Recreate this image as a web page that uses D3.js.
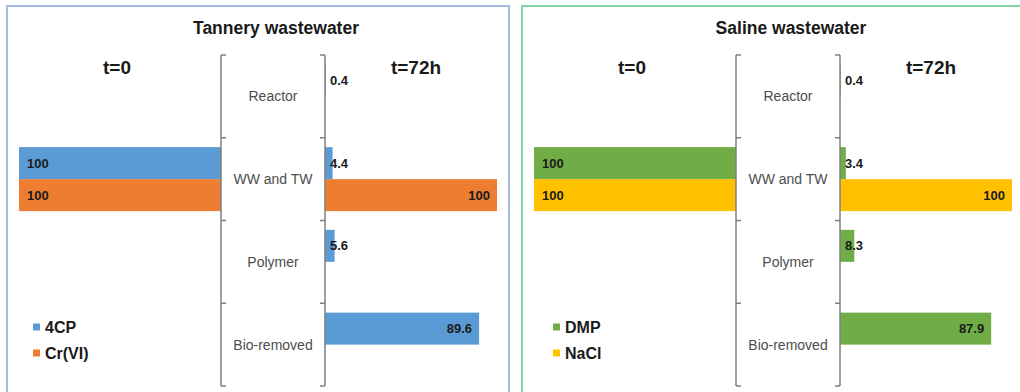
<!DOCTYPE html>
<html>
<head>
<meta charset="utf-8">
<script src="https://cdn.jsdelivr.net/npm/d3@7/dist/d3.min.js"></script>
<style>
  html, body { margin: 0; padding: 0; background: #ffffff; }
  svg { display: block; font-family: "Liberation Sans", Arial, sans-serif; }
</style>
</head>
<body>
<svg id="chart" width="1020" height="392"></svg>
<script>
// Compartments the contaminants end up in
const categories = ["Reactor", "WW and TW", "Polymer", "Bio-removed"];

// Tannery wastewater (% of initial amount)
const tanneryTitle = "Tannery wastewater";
const tannerySeries = ["4CP", "Cr(VI)"];
const tannery4cpStart = [null, 100, null, null];
const tanneryCrStart = [null, 100, null, null];
const tannery4cpEnd = [0.4, 4.4, 5.6, 89.6];
const tanneryCrEnd = [null, 100, null, null];

// Saline wastewater (% of initial amount)
const salineTitle = "Saline wastewater";
const salineSeries = ["DMP", "NaCl"];
const salineDmpStart = [null, 100, null, null];
const salineNaclStart = [null, 100, null, null];
const salineDmpEnd = [0.4, 3.4, 8.3, 87.9];
const salineNaclEnd = [null, 100, null, null];

const timeLabels = ["t=0", "t=72h"];

const svg = d3.select("#chart");

function drawPanel(cfg) {
  const g = svg.append("g").attr("transform", `translate(${cfg.dx},0)`);

  // panel frame (bottom and far edge run off the image)
  g.append("path")
    .attr("d", `M7,400 V6 H${cfg.frameRight}` + (cfg.closeRight ? ` V400` : ""))
    .attr("fill", "none")
    .attr("stroke", cfg.frame)
    .attr("stroke-width", 2);

  const axL = 221, axR = 325, top = 55, bottom = 386;

  const y = d3.scaleBand().domain(categories).range([top, bottom]);
  const ySub = d3.scaleBand().domain(cfg.series)
    .range([0, y.bandwidth()]).paddingInner(0).paddingOuter(0.293);

  const xL = d3.scaleLinear().domain([0, 100]).range([axL, axL - 202]);
  const xR = d3.scaleLinear().domain([0, 100]).range([axR, axR + 172]);

  const rows = [];
  cfg.start.forEach((vals, si) => vals.forEach((v, ci) => {
    if (v != null) rows.push({ side: "L", s: cfg.series[si], c: categories[ci], v, color: cfg.colors[si] });
  }));
  cfg.end.forEach((vals, si) => vals.forEach((v, ci) => {
    if (v != null) rows.push({ side: "R", s: cfg.series[si], c: categories[ci], v, color: cfg.colors[si] });
  }));

  // bars
  g.selectAll("rect.bar").data(rows).join("rect")
    .attr("class", "bar")
    .attr("x", d => d.side === "L" ? xL(d.v) : xR(0))
    .attr("width", d => d.side === "L" ? xL(0) - xL(d.v) : xR(d.v) - xR(0))
    .attr("y", d => y(d.c) + ySub(d.s))
    .attr("height", ySub.bandwidth())
    .attr("fill", d => d.color);

  // value labels
  g.selectAll("text.val").data(rows).join("text")
    .attr("class", "val")
    .attr("x", d => {
      if (d.side === "L") return xL(d.v) + 8;
      return d.v > 20 ? xR(d.v) - 7 : xR(0) + 5;
    })
    .attr("y", d => y(d.c) + ySub(d.s) + ySub.bandwidth() / 2)
    .attr("dy", "0.35em")
    .attr("text-anchor", d => (d.side === "R" && d.v > 20) ? "end" : "start")
    .attr("font-size", 13)
    .attr("font-weight", "bold")
    .attr("fill", "#1a1a1a")
    .text(d => d.v);

  // bracket axes framing the category names
  const bounds = d3.range(categories.length + 1).map(i => top + i * y.step());
  const brk = g.append("g").attr("stroke", "#7f7f7f").attr("stroke-width", 1.5).attr("fill", "none");
  brk.append("line").attr("x1", axL).attr("x2", axL).attr("y1", top).attr("y2", bottom);
  brk.append("line").attr("x1", axR).attr("x2", axR).attr("y1", top).attr("y2", bottom);
  bounds.forEach(b => {
    brk.append("line").attr("x1", axL).attr("x2", axL + 5).attr("y1", b).attr("y2", b);
    brk.append("line").attr("x1", axR).attr("x2", axR - 5).attr("y1", b).attr("y2", b);
  });

  // category names
  g.selectAll("text.cat").data(categories).join("text")
    .attr("class", "cat")
    .attr("x", (axL + axR) / 2)
    .attr("y", d => y(d) + y.bandwidth() / 2)
    .attr("dy", "0.35em")
    .attr("text-anchor", "middle")
    .attr("font-size", 14)
    .attr("fill", "#4d4d4d")
    .text(d => d);

  // titles
  g.append("text").attr("x", 276).attr("y", 34)
    .attr("text-anchor", "middle").attr("font-size", 17.5).attr("font-weight", "bold")
    .attr("fill", "#1a1a1a").text(cfg.title);
  g.append("text").attr("x", 117).attr("y", 74)
    .attr("text-anchor", "middle").attr("font-size", 19).attr("font-weight", "bold")
    .attr("fill", "#1a1a1a").text(timeLabels[0]);
  g.append("text").attr("x", 416).attr("y", 74)
    .attr("text-anchor", "middle").attr("font-size", 19).attr("font-weight", "bold")
    .attr("fill", "#1a1a1a").text(timeLabels[1]);

  // legend
  const lg = g.append("g").attr("transform", `translate(${cfg.legendX},0)`);
  cfg.series.forEach((s, i) => {
    const cy = 327 + i * 26;
    lg.append("rect").attr("x", 0).attr("y", cy - 3.5).attr("width", 7).attr("height", 7)
      .attr("fill", cfg.colors[i]);
    lg.append("text").attr("x", 12).attr("y", cy).attr("dy", "0.36em")
      .attr("font-size", 16).attr("font-weight", "bold").attr("fill", "#1a1a1a").text(s);
  });
}

drawPanel({
  dx: 0, title: tanneryTitle, series: tannerySeries,
  start: [tannery4cpStart, tanneryCrStart], end: [tannery4cpEnd, tanneryCrEnd],
  colors: ["#5b9bd5", "#ed7d31"], frame: "#a3bce6", frameRight: 509, closeRight: true,
  legendX: 33
});

drawPanel({
  dx: 515, title: salineTitle, series: salineSeries,
  start: [salineDmpStart, salineNaclStart], end: [salineDmpEnd, salineNaclEnd],
  colors: ["#70ad47", "#ffc000"], frame: "#86d3a6", frameRight: 520, closeRight: false,
  legendX: 38
});
</script>
</body>
</html>
